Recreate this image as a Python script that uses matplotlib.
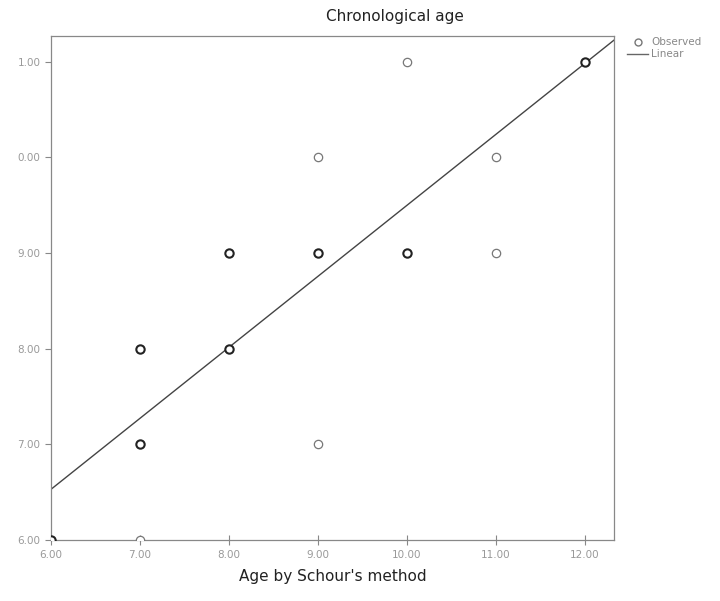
import numpy as np
import matplotlib.pyplot as plt
from matplotlib.lines import Line2D

# data
schour_age = [6, 7, 7, 7, 8, 8, 9, 9, 9, 10, 10, 11, 11, 12]
chrono_age = [6, 6, 7, 8, 8, 9, 7, 9, 10, 9, 11, 9, 10, 11]
# darker circles = overlapping cases
dark = [1, 0, 1, 1, 1, 1, 0, 1, 0, 1, 0, 0, 0, 1]

fit_intercept = 6.53   # value at x = 6
fit_slope = 0.742

x_ticks = [6, 7, 8, 9, 10, 11, 12]
x_labels = ['6.00', '7.00', '8.00', '9.00', '10.00', '11.00', '12.00']
y_ticks = [6, 7, 8, 9, 10, 11]
y_labels = ['6.00', '7.00', '8.00', '9.00', '0.00', '1.00']

fig = plt.figure(figsize=(7.2, 6.01), dpi=100)
ax = fig.add_axes([51/720, 1 - 540/601, (614 - 51)/720, (540 - 36)/601])

x0, x1 = 6, 12.33
ax.set_xlim(x0, x1)
ax.set_ylim(6, 11.27)

# regression line
xs = np.array([x0, x1])
ax.plot(xs, fit_intercept + fit_slope * (xs - 6), color='#444444', linewidth=1.0, zorder=2)

# observed points (clipped at the axes like the original)
for x, y, d in zip(schour_age, chrono_age, dark):
    ec = '#222222' if d else '#777777'
    lw = 1.5 if d else 0.9
    ax.plot(x, y, marker='o', markersize=6, markerfacecolor='white',
            markeredgecolor=ec, markeredgewidth=lw, linestyle='none', zorder=3)

ax.set_xticks(x_ticks)
ax.set_xticklabels(x_labels)
ax.set_yticks(y_ticks)
ax.set_yticklabels(y_labels)
ax.tick_params(axis='both', colors='#888888', labelcolor='#999999', labelsize=7.5,
               length=4, width=0.8)
ax.tick_params(axis='x', direction='inout', length=7)
for s in ax.spines.values():
    s.set_color('#888888')
    s.set_linewidth(0.9)

fig.text(395/720, 1 - 16/601, 'Chronological age', ha='center', va='center',
         fontsize=11, color='#222222')
fig.text(333/720, 1 - 576/601, "Age by Schour's method", ha='center', va='center',
         fontsize=11, color='#222222')

handles = [Line2D([], [], marker='o', markersize=5, markerfacecolor='white',
                  markeredgecolor='#777777', linestyle='none'),
           Line2D([], [], color='#666666', linewidth=1)]
fig.legend(handles, ['Observed', 'Linear'], loc='upper left',
           bbox_to_anchor=(622/720, 1 - 32/601), frameon=False, fontsize=7.5,
           labelcolor='#888888', handlelength=2.0, handletextpad=0.3,
           labelspacing=0.2, borderpad=0)

plt.savefig('out.png', dpi=100)
